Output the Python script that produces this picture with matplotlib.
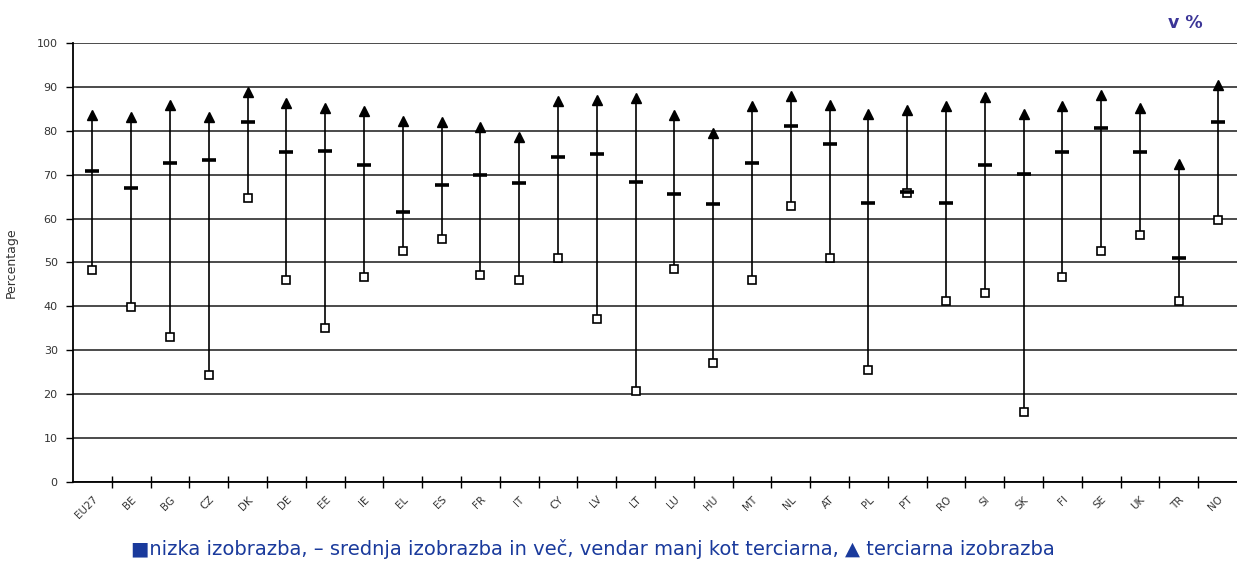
import matplotlib.pyplot as plt
import numpy as np

# Drzave in delezi zaposlenosti po izobrazbi (v %)
countries = ["EU27", "BE", "BG", "CZ", "DK", "DE", "EE", "IE", "EL", "ES",
             "FR", "IT", "CY", "LV", "LT", "LU", "HU", "MT", "NL", "AT",
             "PL", "PT", "RO", "SI", "SK", "FI", "SE", "UK", "TR", "NO"]
low = [48.3, 39.9, 33.0, 24.3, 64.7, 45.9, 35.1, 46.8, 52.6, 55.4,
       47.2, 45.9, 51.1, 37.1, 20.8, 48.5, 27.1, 45.9, 62.9, 51.1,
       25.6, 65.8, 41.2, 43.1, 15.9, 46.7, 52.6, 56.2, 41.2, 59.7]
medium = [70.8, 67.0, 72.7, 73.3, 81.9, 75.2, 75.5, 72.2, 61.4, 67.7,
          69.9, 68.0, 74.1, 74.8, 68.4, 65.5, 63.4, 72.7, 81.1, 77.1,
          63.5, 66.0, 63.5, 72.2, 70.2, 75.2, 80.7, 75.2, 51.0, 81.9]
tertiary = [83.6, 83.1, 85.9, 83.1, 88.8, 86.3, 85.3, 84.4, 82.2, 82.0,
            80.9, 78.5, 86.7, 87.0, 87.5, 83.7, 79.6, 85.6, 87.9, 85.9,
            83.8, 84.7, 85.6, 87.6, 83.8, 85.6, 88.2, 85.3, 72.4, 90.4]
y_ticks = [0, 10, 20, 30, 40, 50, 60, 70, 80, 90, 100]

legend_text = ("\u25A0nizka izobrazba, \u2013 srednja izobrazba in ve\u010d, "
               "vendar manj kot terciarna, \u25B2 terciarna izobrazba")


def main():
    fig = plt.figure(figsize=(12.37, 5.63), dpi=100)
    ax = fig.add_axes([0.059, 0.1439, 0.941, 0.7797])

    x = np.arange(len(countries))
    all_vals = np.vstack([low, medium, tertiary])

    # Mreza - vodoravne crte
    for yv in y_ticks:
        ax.axhline(yv, color="#1a1a1a", lw=1.1, zorder=1)

    # Navpicne crte od minimuma do maksimuma
    ax.vlines(x, all_vals.min(axis=0), all_vals.max(axis=0),
              color="black", lw=1.2, zorder=2)

    ax.plot(x, low, ls="none", marker="s", ms=6, mfc="white",
            mec="black", mew=1.2, zorder=3)
    ax.plot(x, medium, ls="none", marker="_", ms=10, mec="black",
            mew=2.6, zorder=4)
    ax.plot(x, tertiary, ls="none", marker="^", ms=6.5, color="black", zorder=4)

    ax.set_xlim(-0.5, len(countries) - 0.5)
    ax.set_ylim(0, 100)

    # Os x: crtice na mejah kategorij, oznake na sredini
    ax.set_xticks(np.arange(0.5, len(countries) - 1, 1.0))
    ax.set_xticklabels([])
    ax.tick_params(axis="x", which="major", direction="inout", length=8,
                   width=1.0, color="black")
    ax.set_xticks(x, minor=True)
    ax.set_xticklabels(countries, minor=True, rotation=45, ha="right",
                       rotation_mode="anchor", fontsize=7.5, color="#333333")
    ax.tick_params(axis="x", which="minor", length=0, pad=9)

    ax.set_yticks(y_ticks)
    ax.set_yticklabels([str(v) for v in y_ticks], fontsize=8, color="#333333")
    ax.tick_params(axis="y", direction="out", length=5, width=1.0, pad=6)
    ax.set_ylabel("Percentage", fontsize=9, color="#333333", labelpad=14)

    for side in ["top", "right"]:
        ax.spines[side].set_visible(False)
    ax.spines["left"].set_linewidth(1.3)
    ax.spines["bottom"].set_linewidth(1.3)

    fig.text(0.958, 0.96, "v %", fontsize=12.5, fontweight="bold",
             color="#3b3597", ha="center", va="center")
    fig.text(0.479, 0.024, legend_text, fontsize=14, color="#1a3a9c",
             ha="center", va="center",
             family=["Liberation Sans Narrow", "DejaVu Sans"])

    fig.savefig("out.png", dpi=100)


if __name__ == "__main__":
    main()
